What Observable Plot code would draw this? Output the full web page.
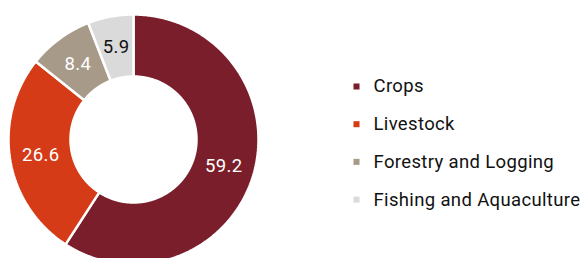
<!DOCTYPE html>
<html>
<head>
<meta charset="utf-8">
<script src="https://cdn.jsdelivr.net/npm/d3@7"></script>
<script src="https://cdn.jsdelivr.net/npm/@observablehq/plot@0.6"></script>
<style>
  html, body { margin: 0; padding: 0; background: #fff; }
  #chart svg { display: block; }
  #chart svg text { letter-spacing: 0.35px; }
</style>
</head>
<body>
<div id="chart"></div>
<script>
const categories = ["Crops", "Livestock", "Forestry and Logging", "Fishing and Aquaculture"];
const values = [59.2, 26.6, 8.4, 5.9];
const colors = ["#7b1e2b", "#d63b17", "#a89a88", "#dadada"];
const labelColors = ["#ffffff", "#ffffff", "#ffffff", "#111111"];

const W = 584, H = 258;
const cx = 133, cy = 139, R = 125, r = 63;

const pie = d3.pie().sort(null).value(d => d)(values);
const slices = [];
const labels = [];
pie.forEach((p, i) => {
  const n = Math.max(4, Math.ceil((p.endAngle - p.startAngle) / 0.01));
  const pts = [];
  for (let k = 0; k <= n; k++) {
    const a = p.startAngle + (p.endAngle - p.startAngle) * k / n;
    pts.push({x: cx + R * Math.sin(a), y: cy - R * Math.cos(a)});
  }
  for (let k = n; k >= 0; k--) {
    const a = p.startAngle + (p.endAngle - p.startAngle) * k / n;
    pts.push({x: cx + r * Math.sin(a), y: cy - r * Math.cos(a)});
  }
  pts.push(pts[0]);
  pts.forEach(pt => slices.push({...pt, cat: categories[i]}));
  const am = (p.startAngle + p.endAngle) / 2, rm = (R + r) / 2;
  labels.push({x: cx + rm * Math.sin(am), y: cy - rm * Math.cos(am), text: values[i].toFixed(1), color: labelColors[i]});
});

const legendX = 356, legendY0 = 86, legendStep = 37.7;
const legend = categories.map((c, i) => ({cat: c, x: legendX, y: legendY0 + i * legendStep}));

const chart = Plot.plot({
  width: W, height: H,
  margin: 0,
  x: {domain: [0, W], range: [0, W], axis: null},
  y: {domain: [0, H], range: [0, H], axis: null},
  color: {domain: categories, range: colors},
  style: {fontFamily: "Roboto, sans-serif", background: "#fff"},
  marks: [
    Plot.line(slices, {x: "x", y: "y", z: "cat", fill: "cat", stroke: "#fff", strokeWidth: 2.5, strokeLinejoin: "miter", curve: "linear"}),
    Plot.text(labels, {x: "x", y: "y", text: "text", fill: d => d.color, fontSize: 18.5, textAnchor: "middle"}),
    Plot.dot(legend, {x: "x", y: "y", symbol: "square", fill: "cat", r: 3.4}),
    Plot.text(legend, {x: d => d.x + 17, y: "y", text: "cat", fill: "#111", fontSize: 18.5, textAnchor: "start"})
  ]
});
document.getElementById("chart").appendChild(chart);
</script>
</body>
</html>
